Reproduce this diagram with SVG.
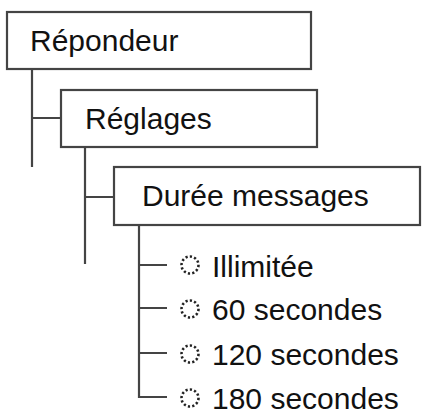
<svg xmlns="http://www.w3.org/2000/svg" width="426" height="414" viewBox="0 0 426 414">
<style>
.box{fill:#fff;stroke:#444;stroke-width:2.2}
.lbl{font-family:"Liberation Sans",Arial,sans-serif;font-size:30px;fill:#111}
.con{fill:none;stroke:#444;stroke-width:2.2}
.opt{fill:none;stroke:#222;stroke-width:2.6;stroke-dasharray:2.2 2.2}
</style>
<rect width="426" height="414" fill="#fff"/>
<g id="connectors">
<path class="con" d="M32 69V167M32 118H61"/>
<path class="con" d="M85 147V264M85 197H114"/>
<path class="con" d="M139 225V397H167M139 265H167M139 308H167M139 353H167"/>
</g>
<g id="n-repondeur"><rect class="box" x="7" y="12" width="304" height="57"/><text class="lbl" x="30" y="51">Répondeur</text></g>
<g id="n-reglages"><rect class="box" x="61" y="90" width="256" height="57"/><text class="lbl" x="85" y="129">Réglages</text></g>
<g id="n-duree"><rect class="box" x="114" y="167" width="306" height="58"/><text class="lbl" x="142" y="206">Durée messages</text></g>
<g id="o-illimitee"><circle class="opt" cx="190" cy="265" r="8.5"/><text class="lbl" x="212" y="277">Illimitée</text></g>
<g id="o-60"><circle class="opt" cx="190" cy="309" r="8.5"/><text class="lbl" x="212" y="320">60 secondes</text></g>
<g id="o-120"><circle class="opt" cx="190" cy="354" r="8.5"/><text class="lbl" x="212" y="365">120 secondes</text></g>
<g id="o-180"><circle class="opt" cx="190" cy="398" r="8.5"/><text class="lbl" x="212" y="409">180 secondes</text></g>
</svg>
